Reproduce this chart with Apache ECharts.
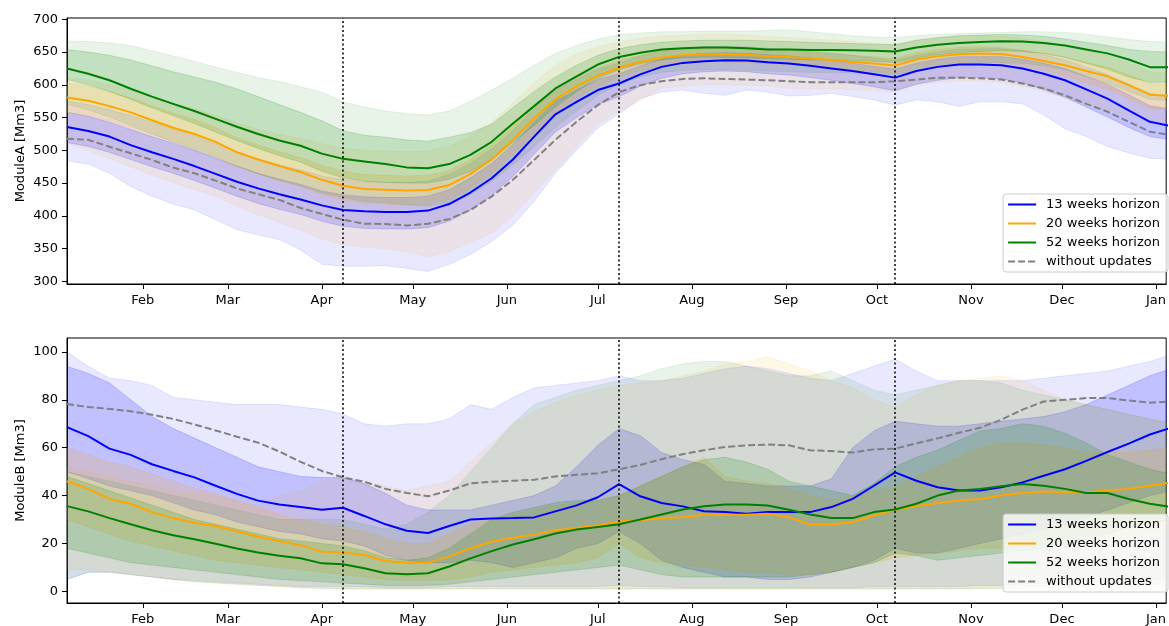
<!DOCTYPE html>
<html><head><meta charset="utf-8">
<script src="https://cdn.jsdelivr.net/npm/echarts@6/dist/echarts.min.js"></script>
<style>html,body{margin:0;padding:0;background:#fff}#c{width:1169px;height:626px}</style>
</head><body><div id="c"></div>
<script>
// ---------- axes / categories ----------
const startDate = '2019-01-07';      // first weekly value
const axisEnd = '2020-01-04T08:40:00Z'; // right edge of the visible plot
const nWeeks = 53;
const monthTicks = ['2019-02-01','2019-03-01','2019-04-01','2019-05-01','2019-06-01','2019-07-01',
  '2019-08-01','2019-09-01','2019-10-01','2019-11-01','2019-12-01','2020-01-01'];
const monthLabels = ['Feb','Mar','Apr','May','Jun','Jul','Aug','Sep','Oct','Nov','Dec','Jan'];
const updateDates = ['2019-04-08','2019-07-08','2019-10-07'];
const seriesNames = ['13 weeks horizon','20 weeks horizon','52 weeks horizon','without updates'];
const yTicksA = [300,350,400,450,500,550,600,650,700];
const yTicksB = [0,20,40,60,80,100];

// ---------- ModuleA ----------
const A13 = [535.6,529.5,521,508,497,487,476,464,452,442,433,425,416,409,407,406,406,408,418,435.6,457.4,486,521,555,574,592,602,616,627.4,633.5,636,637.6,637,634.5,632.5,629,625,621,616,611,621,627.4,631,631,630,625,617,607,593,579,561,543.6,537];
const A20 = [580.8,575.6,567.5,558,546,534.5,525,513,497,486,476,467,455,446,441,440,438.6,439.6,447,464,486,516,549,578,598,614,626,635,641.7,645,646.7,646.7,646,643.7,642.6,640,638,635,632.5,629.5,638.6,643.7,646.7,647.8,647,642.6,636.5,630,621,613,599.5,585,583];
const A52 = [625,617,607,594,582,571,560,548,536,525,515,507,495,487,483,479,474,472.7,479,493,513,541,567.5,594.5,613,631,642.6,649,654,656,657,657,656,654,654,653,653,652.6,652,651,657,661,664,665.5,666.5,666,664,660,654,648,638.6,627,627];
const A0 = [517.8,516,505.6,495.5,485.3,473.7,465,453.8,442,433,424.4,412,403,394,388,387.6,385.3,388,395,409,429.5,455,485.3,516,543.6,569,589,599.5,605.6,609,610,609,608,607,605.6,604,604,604,604,605.6,608,610.7,611,610,608,602,594.5,584,571,559,543.6,528.5,523];

const A13_outLo = [484,479,465,445,430,418,409,394,379,371,364,348,326,323,323,324,320,315,326,341,361,386,422,465,500,534,556,579,589,592,587,584,592,589,583,584,587,582,577,569,577,574,567,574,574,571,554,533,521,506,496,488,486];
const A13_outHi = [575,570,562,553,543,533,522,510,498,487,478,470,461,455,452,451,451,453,463,480,502,530,563,592,608,624,633,644,652,656,658,659,658,656,654,651,648,645,641,637,645,650,654,655,655,652,646,638,627,616,601,587,582];
const A13_inLo = [512,506,497,486,475,465,454,442,430,419,410,402,392,384,381,380,380,382,392,409,431,460,494,528,550,570,582,598,610,617,620,621,620,617,615,611,607,602,597,591,601,607,611,611,609,603,593,581,566,551,535,521,516];
const A13_inHi = [558,552,543,532,521,511,500,488,476,465,456,448,438,432,429,428,428,430,440,458,480,509,543,575,592,608,617,629,639,645,648,649,648,646,644,641,637,633,628,624,633,639,643,643,643,639,633,625,613,601,585,568,563];

const A20_outLo = [510,500,488,475,462,450,440,430,415,402,390,378,365,356,352,350,345,338,345,360,374,400,435,470,505,540,560,575,595,598,600,600,600,598,595,594,594,593,592,590,600,604,606,606,604,598,590,580,570,562,552,542,540];
const A20_outHi = [610,607,600,592,582,572,563,553,542,532,524,518,510,503,500,499,498,499,506,522,543,572,603,630,647,658,665,671,674,676,677,677,676,674,672,670,668,666,664,662,668,672,674,675,674,671,666,660,652,645,633,620,617];
const A20_inLo = [558,553,545,535,524,513,503,491,475,464,454,445,433,424,419,418,416,417,425,442,464,494,527,558,580,598,612,622,629,633,635,635,634,632,631,628,626,623,620,617,626,631,634,635,634,629,622,614,603,594,579,564,561];
const A20_inHi = [603,598,590,580,568,557,547,535,519,508,498,489,477,468,463,462,461,462,469,486,508,537,568,594,611,626,637,645,651,654,656,656,655,653,652,650,648,645,643,640,649,654,657,658,657,653,648,642,634,627,615,602,600];

const A52_outLo = [570,562,551,538,525,513,501,489,476,464,454,446,435,428,422,420,417,415,420,433,452,478,506,535,560,584,601,612,619,622,623,623,622,621,620,619,619,618,617,615,622,627,631,633,634,633,629,623,613,603,590,578,576];
const A52_outHi = [667,666,664,660,652,644,636,627,619,611,605,597,589,574,566,560,556,554,560,575,592,610,630,648,660,670,676,679,681,681,682,682,682,683,684,681,678,675,673,672,675,677,678,679,680,681,681,680,677,673,669,666,665];
const A52_inLo = [608,600,590,578,565,553,541,528,515,503,492,482,468,458,453,451,450,450,456,468,486,512,538,566,590,610,623,632,638,641,642,642,641,640,639,638,638,637,636,634,641,646,649,651,652,651,648,642,633,624,612,604,604];
const A52_inHi = [654,650,645,638,629,620,612,604,594,582,570,558,545,530,523,520,516,514,520,527,540,565,590,612,630,645,655,661,665,667,668,668,668,667,666,665,664,663,662,661,668,672,675,676,677,676,674,670,665,660,654,651,650];

// ---------- ModuleB ----------
const B13 = [68.6,64.8,59.6,57,53.1,50.3,47.6,44.1,40.7,37.9,36.3,35.2,34.1,34.9,31.5,28,25.3,24.4,27.3,30,30.4,30.6,30.9,33.4,35.9,39.3,44.8,39.7,36.9,35.5,33.5,33.1,32.4,33.1,33.1,33.1,35.2,38.6,44.1,49.7,46.2,43.5,42.1,42.1,43.5,45.5,48.3,51,54.5,58.2,61.7,65.5,68.3];
const B20 = [46,42.8,38.6,36.6,33.1,30.6,28.7,27.3,25.1,22.8,21,19.3,16.6,16.2,15.2,12.7,12,12,14.5,18,20.7,22.4,23.7,25.5,26.5,27.6,29.2,29.7,30.6,31,32,32,32,32.4,31,27.9,27.9,29,31.7,34.1,35.6,36.9,37.9,38.6,40,41.1,41.7,41.4,41.4,42.1,42.8,44.1,45.5];
const B52 = [35.6,33.4,30.6,28,25.5,23.4,21.8,19.9,17.9,16.2,14.9,13.8,11.7,11.3,9.7,7.6,7.2,7.6,10.4,13.8,16.8,19.6,21.8,24.2,25.8,26.9,28,30,32.1,34.2,35.5,36.3,36.3,35.9,34.1,32.1,30.6,30.6,33.1,34.2,36.6,40,42.1,42.8,43.9,44.8,44.1,42.8,41.1,41.1,38.6,36.6,35.2];
const B0 = [78.2,77,76.2,75.2,73.8,72,69.7,67.2,64.6,62.1,58.4,54.1,50.3,47.6,45.8,42.8,41.1,39.7,42.1,45.1,45.8,46.2,46.6,48,48.7,49.3,51,52.8,55.2,57.3,58.9,60.3,61,61.3,61,58.9,58.6,58,59.3,59.6,61.8,63.9,66.2,68.3,71.7,75.9,79.3,80,80.7,80.7,79.7,78.8,79.3];

const B13_outLo = [5,8,8,7,6,5,4.5,4,3.5,3,2.5,2,2,2,2,1.5,1.5,1.5,2,2,2,2,2,2,2,2,2.5,2,2,1.5,1.5,1.5,1.5,1.5,1.5,1.5,1.5,1.5,2,2,2,2,2,2.5,2.5,3,3,3.5,4,4,4.5,5,5];
const B13_outHi = [100,94,89,88,86,81,80,79,78,78,78,77,76,74,70,69,70,70,72,78,76,81,85,86,87,88,90,88,88,89,91,93,94,93,91,89,88,91,94,97,92,88,88,88,88,88,89,90,91,92,94,96,99];
const B13_inLo = [50,47,44,42,40,37,34,32,29,27,25,24,22,21,19,15,13,12,12,13,12,10,12,14,18,20,25,20,13,10,8,6,6,5,5,6,8,10,13,18,16,16,18,20,22,24,26,28,31,34,37,40,42];
const B13_inHi = [94,91,87,80,73,68,64,60,56,52,50,48,47.5,47.5,45,41,36,34,34,34,36,38,40,44,52,61,68,65,58,55,53,46,45,44,44,44,47,60,67,71,70,69,69,70,71,72,73,75,78,82,86,90,93];

const B20_outLo = [9,9,8,7,6,5,4,3.5,3,2.5,2,1.5,1.5,1,1,1,1,1,1,1,1,1,1,1,1,1,1,1,1,1,1,1,1,1,1,1,1,1,1,1,1,1,1,1.5,1.5,1.5,2,2,2,2.5,2.5,3,3];
const B20_outHi = [52,50,48,46,44,42,41,40,38,36,40,42,46,48,46,44,42,44,46,54,62,70,75,79,82,84,86,87,88,90,92,95,96,98,95,92,88,85,80,77,82,86,88,89,90,88,84,80,78,76,74,72,70];
const B20_inLo = [30,27,24,21,19,17,15,13,12,11,10,9,8,7,6,5,4.5,4.5,5,6,8,9,10,11,12,14,20,14,12,11,10,9,8,8,7,7,8,10,12,14,15,16,17,18,18,19,20,21,22,23,24,25,26];
const B20_inHi = [60,57,54,52,49,46,43,41,38,35,32,30,28,27,25,22,20,20,24,28,30,32,34,36,37,38,40,44,48,52,56,48,46,45,43,40,38,40,42,44,48,52,56,60,62,62,61,60,58,58,58,59,60];

const B52_outLo = [5,8,8,7,6,5,4,3.5,3,2.5,2,1.5,1,1,1,1,1,1,1,1,1,1,1,1,1,1,1,1,1,1,1,1,1,1,1,1,1,1,1,1,1,1,1,1,1,1.5,1.5,1.5,2,2,2,2,2];
const B52_outHi = [50,48,46,44,42,40,38,36,34,32,30,30,30,30,28,26,28,33,40,50,60,70,78,81,84,86,88,90,93,95,96,96,94,92,90,90,92,88,84,82,84,86,88,88,87,84,82,80,78,76,74,72,70];
const B52_inLo = [18,16,14,12,11,10,9,8,7,6,5,4.5,4,3.5,3,2.5,2.5,2.5,3,4,5,6,7,8,9,10,11,9,7,6,6,6,6,6,6,7,8,10,12,16,15,13,14,15,16,17,18,20,22,24,27,29,30];
const B52_inHi = [48,45,42,39,36,33,30,28,26,24,22,21,20,19,17,14,13,14,18,24,30,33,35,37,38,38,40,44,48,52,55,56,54,51,46,44,42,40,45,52,56,59,63,67,68,70,69,66,62,57,54,51,49];

// ---------- build ----------
const DAY = 86400000;
const t0 = Date.parse(startDate);
const weekMs = Array.from({length: nWeeks}, (_, k) => t0 + 7 * k * DAY);
const tickMs = monthTicks.map(d => Date.parse(d));
const updMs = updateDates.map(d => Date.parse(d));
const xMin = t0, xMax = Date.parse(axisEnd);
const FONT = 'DejaVu Sans';
const RGB = {b: '0,0,255', o: '255,165,0', g: '0,128,0'};
const COL = {b: '#0000ff', o: '#ffa500', g: '#008000', d: '#808080'};
const A_OUT = 0.09, A_IN = 0.17;

function band(gi, lo, hi, rgb, a) {
  const c = 'rgba(' + rgb + ',' + a + ')';
  return {
    type: 'custom', xAxisIndex: gi, yAxisIndex: gi, z: 1, silent: true, clip: true,
    animation: false, data: [[weekMs[0], lo[0]]],
    renderItem: function (params, api) {
      if (params.dataIndex !== 0) return;
      const pts = [];
      for (let i = 0; i < nWeeks; i++) pts.push(api.coord([weekMs[i], hi[i]]));
      for (let i = nWeeks - 1; i >= 0; i--) pts.push(api.coord([weekMs[i], lo[i]]));
      return {type: 'polygon', shape: {points: pts}, style: {fill: c, stroke: c, lineWidth: 1}};
    }
  };
}
function line(gi, name, vals, color, dashed, withMarks) {
  const s = {
    type: 'line', name: name, xAxisIndex: gi, yAxisIndex: gi, z: 3, silent: true,
    animation: false, symbol: 'none', showSymbol: false, clip: true,
    data: weekMs.map((t, i) => [t, vals[i]]),
    lineStyle: {color: color, width: 2, type: dashed ? [7, 3] : 'solid'},
    itemStyle: {color: color}
  };
  if (withMarks) {
    s.markLine = {
      silent: true, symbol: ['none', 'none'], animation: false,
      label: {show: false},
      lineStyle: {color: '#000', width: 1.5, type: [2, 2.5]},
      data: updMs.map(v => ({xAxis: v}))
    };
  }
  return s;
}
function xAxis(gi) {
  return {
    type: 'value', gridIndex: gi, min: xMin, max: xMax,
    axisLine: {show: true, onZero: false, lineStyle: {color: '#000', width: 1}},
    axisTick: {show: true, customValues: tickMs, length: 5, lineStyle: {color: '#000', width: 1}},
    axisLabel: {customValues: tickMs, formatter: v => monthLabels[tickMs.indexOf(v)] || '',
      color: '#000', fontSize: 13, fontFamily: FONT, margin: 10},
    splitLine: {show: false}
  };
}
function yAxis(gi, min, max, ticks, name) {
  return {
    type: 'value', gridIndex: gi, min: min, max: max,
    name: name, nameLocation: 'middle', nameGap: 40, nameMoveOverlap: false,
    nameTextStyle: {color: '#000', fontSize: 13, fontFamily: FONT},
    axisLine: {show: true, onZero: false, lineStyle: {color: '#000', width: 1}},
    axisTick: {show: true, customValues: ticks, length: 5, lineStyle: {color: '#000', width: 1}},
    axisLabel: {customValues: ticks, color: '#000', fontSize: 13, fontFamily: FONT, margin: 9},
    splitLine: {show: false}
  };
}
function legend(top) {
  return {
    orient: 'vertical', right: 1, top: top, data: seriesNames, selectedMode: false,
    itemWidth: 28, itemHeight: 14, itemGap: 6, padding: [4, 8, 4, 4],
    itemStyle: {opacity: 0},
    backgroundColor: 'rgba(255,255,255,0.8)', borderColor: '#cccccc', borderWidth: 1, borderRadius: 3,
    textStyle: {color: '#000', fontSize: 13, fontFamily: FONT, padding: [0, 0, 0, 5]}
  };
}

const series = [];
[[0, {b: [A13_outLo, A13_outHi, A13_inLo, A13_inHi], o: [A20_outLo, A20_outHi, A20_inLo, A20_inHi], g: [A52_outLo, A52_outHi, A52_inLo, A52_inHi]}],
 [1, {b: [B13_outLo, B13_outHi, B13_inLo, B13_inHi], o: [B20_outLo, B20_outHi, B20_inLo, B20_inHi], g: [B52_outLo, B52_outHi, B52_inLo, B52_inHi]}]
].forEach(([gi, bands]) => {
  ['b', 'o', 'g'].forEach(k => {
    const q = bands[k];
    series.push(band(gi, q[0], q[1], RGB[k], A_OUT));
    series.push(band(gi, q[2], q[3], RGB[k], A_IN));
  });
});
series.push(line(0, seriesNames[0], A13, COL.b, false, false));
series.push(line(0, seriesNames[1], A20, COL.o, false, false));
series.push(line(0, seriesNames[2], A52, COL.g, false, false));
series.push(line(0, seriesNames[3], A0, COL.d, true, true));
series.push(line(1, seriesNames[0], B13, COL.b, false, false));
series.push(line(1, seriesNames[1], B20, COL.o, false, false));
series.push(line(1, seriesNames[2], B52, COL.g, false, false));
series.push(line(1, seriesNames[3], B0, COL.d, true, true));

const chart = echarts.init(document.getElementById('c'), null, {renderer: 'canvas'});
chart.setOption({
  animation: false,
  backgroundColor: '#ffffff',
  grid: [
    {left: 67, right: 0, top: 18, height: 266, show: true, borderColor: '#000', borderWidth: 1, backgroundColor: 'transparent'},
    {left: 67, right: 0, top: 338, height: 267, show: true, borderColor: '#000', borderWidth: 1, backgroundColor: 'transparent'}
  ],
  xAxis: [xAxis(0), xAxis(1)],
  yAxis: [yAxis(0, 296, 702, yTicksA, 'ModuleA [Mm3]'), yAxis(1, -4.85, 105.8, yTicksB, 'ModuleB [Mm3]')],
  legend: [legend(194), legend(514)],
  series: series
});
</script></body></html>
